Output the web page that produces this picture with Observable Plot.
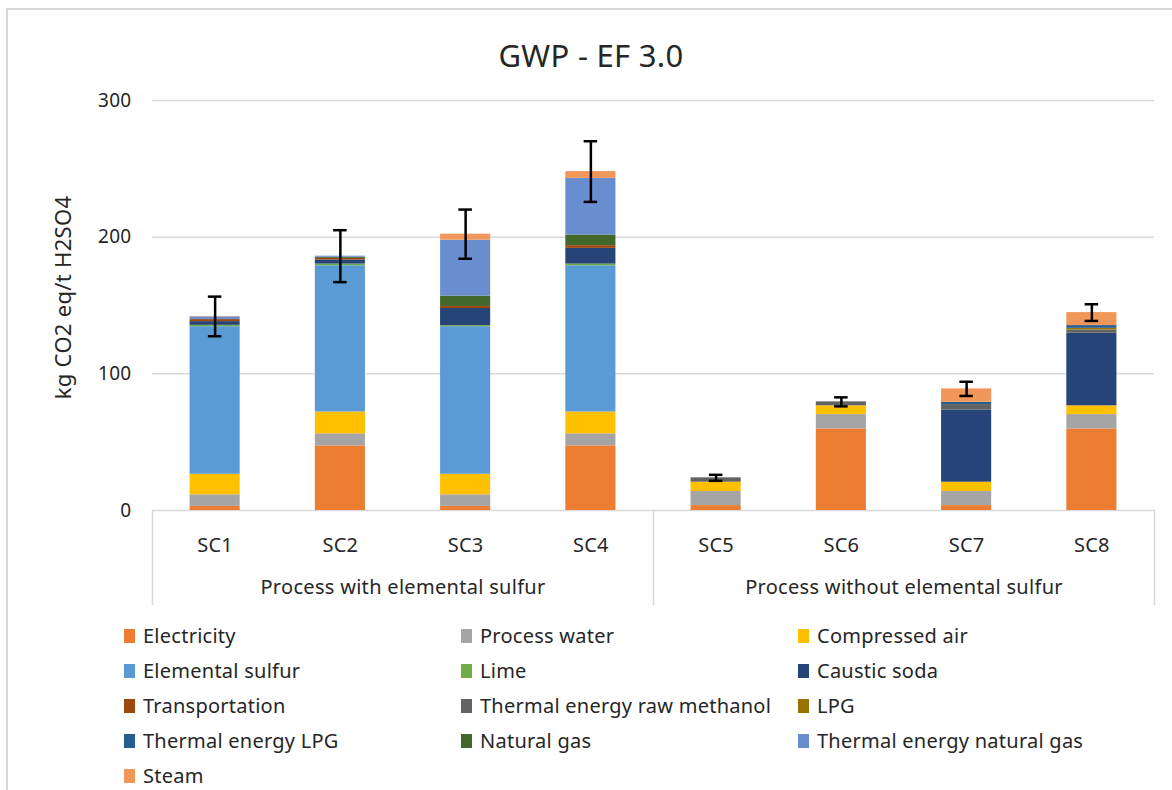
<!DOCTYPE html>
<html>
<head>
<meta charset="utf-8">
<script src="https://cdn.jsdelivr.net/npm/d3@7"></script>
<script src="https://cdn.jsdelivr.net/npm/@observablehq/plot@0.6"></script>
<style>
  html, body { margin: 0; padding: 0; background: #fff; }
  body { width: 1172px; height: 790px; overflow: hidden; position: relative; font-family: "Noto Sans", sans-serif; color: #262626; }
  #frame { position: absolute; left: 6px; top: 8px; width: 1200px; height: 900px; border: 2px solid #d9d9d9; box-sizing: border-box; pointer-events: none; }
  #title { height: 80px; box-sizing: border-box; padding-top: 38px; padding-left: 10px; text-align: center; font-size: 31px; line-height: 34px; color: #262626; letter-spacing: 0.3px; }
  #chart svg { display: block; letter-spacing: 0.3px; }
  #legend { display: grid; grid-template-columns: 337px 337px 337px; grid-auto-rows: 35px; padding-left: 124px; margin-top: -2px; font-size: 20px; letter-spacing: 0.25px; }
  .item { display: flex; align-items: center; white-space: nowrap; }
  .sw { width: 11px; height: 14px; margin-right: 8px; flex: none; }
</style>
</head>
<body>
<div id="frame"></div>
<div id="title"></div>
<div id="chart"></div>
<div id="legend"></div>
<script>
// ---- data ----
const chartTitle = "GWP - EF 3.0";
const yLabel = "kg CO2 eq/t H2SO4";
const yTicks = [0, 100, 200, 300];
const scenarios = ["SC1", "SC2", "SC3", "SC4", "SC5", "SC6", "SC7", "SC8"];
const groups = ["Process with elemental sulfur", "Process without elemental sulfur"];
const scenarioGroup = [0, 0, 0, 0, 1, 1, 1, 1];
const sources = ["Electricity", "Process water", "Compressed air", "Elemental sulfur", "Lime", "Caustic soda",
  "Transportation", "Thermal energy raw methanol", "LPG", "Thermal energy LPG", "Natural gas",
  "Thermal energy natural gas", "Steam"];
const sourceColors = ["#ED7D31", "#A5A5A5", "#FFC000", "#5B9BD5", "#70AD47", "#264478",
  "#9E480E", "#636363", "#997300", "#255E91", "#43682B", "#698ED0", "#F1975A"];

const electricity        = [3.0, 47.3, 3.0, 47.3, 3.6, 59.7, 3.6, 59.7];
const processWater       = [8.5, 8.8, 8.5, 8.8, 10.3, 10.5, 10.3, 10.5];
const compressedAir      = [15.0, 16.0, 15.0, 16.0, 6.8, 6.4, 6.8, 6.4];
const elementalSulfur    = [108.0, 107.0, 108.0, 107.0, 0, 0, 0, 0];
const lime               = [1.0, 1.2, 0.8, 1.2, 0, 0, 0, 0];
const causticSoda        = [2.7, 3.0, 12.5, 11.5, 0, 0, 52.9, 53.1];
const transportation     = [1.5, 1.2, 1.5, 2.0, 0, 0, 0, 0];
const thermalRawMethanol = [0, 0, 0, 0, 3.2, 2.9, 3.9, 2.4];
const lpg                = [0, 0, 0, 0, 0, 0, 0, 1.2];
const thermalLPG         = [0, 0, 0, 0, 0, 0, 1.7, 2.0];
const naturalGas         = [0, 0.8, 7.5, 7.8, 0, 0, 0, 0];
const thermalNaturalGas  = [2.0, 0.8, 41.0, 41.4, 0, 0, 0, 0];
const steam              = [0.3, 0, 4.4, 5.0, 0, 0, 9.8, 9.5];
const errorHalf          = [14.5, 19.0, 18.0, 22.2, 2.2, 3.3, 5.2, 6.1];

const seriesValues = [electricity, processWater, compressedAir, elementalSulfur, lime, causticSoda,
  transportation, thermalRawMethanol, lpg, thermalLPG, naturalGas, thermalNaturalGas, steam];

// ---- tables built from the arrays ----
const rows = sources.flatMap((source, s) =>
  scenarios.map((scenario, j) => ({ scenario, i: j + 1, source, value: seriesValues[s][j] })));
const totals = scenarios.map((scenario, j) => {
  const total = d3.sum(seriesValues, v => v[j]);
  return { scenario, i: j + 1, lo: total - errorHalf[j], hi: total + errorHalf[j] };
});
const caps = totals.flatMap(d => [{ i: d.i, y: d.lo }, { i: d.i, y: d.hi }]);
const indices = scenarios.map((s, j) => j + 1);
const groupCenters = groups.map((g, k) => d3.mean(indices.filter(i => scenarioGroup[i - 1] === k)));
const groupBounds = [0.5].concat(groups.map((g, k) => d3.max(indices.filter(i => scenarioGroup[i - 1] === k)) + 0.5));

const barHalf = 0.2;
const capHalf = 0.054;
const grid = "#d9d9d9";

document.getElementById("title").textContent = chartTitle;

const plot = Plot.plot({
  width: 1172,
  height: 540,
  marginTop: 20,
  marginBottom: 110,
  marginLeft: 152,
  marginRight: 18,
  x: { domain: [0.5, scenarios.length + 0.5] },
  y: { domain: [yTicks[0], yTicks[yTicks.length - 1]] },
  color: { domain: sources, range: sourceColors },
  style: { fontFamily: "'Noto Sans', sans-serif", fontSize: "20px", color: "#262626", background: "white", overflow: "visible" },
  marks: [
    Plot.ruleY(yTicks, { stroke: grid, strokeWidth: 1.5 }),
    Plot.ruleX(groupBounds, { stroke: grid, strokeWidth: 1.5, insetTop: 410, insetBottom: -95 }),
    Plot.rectY(rows, Plot.stackY({
      x: "i",
      x1: d => d.i - barHalf,
      x2: d => d.i + barHalf,
      y: "value",
      fill: "source"
    })),
    Plot.ruleX(totals, { x: "i", y1: "lo", y2: "hi", stroke: "black", strokeWidth: 2.5 }),
    Plot.ruleY(caps, { x1: d => d.i - capHalf, x2: d => d.i + capHalf, y: "y", stroke: "black", strokeWidth: 2.5 }),
    Plot.axisY({ ticks: yTicks, tickSize: 0, tickPadding: 21, fontSize: 19, label: null }),
    Plot.axisX({ ticks: indices, tickFormat: i => scenarios[i - 1], tickSize: 0, tickPadding: 27, fontSize: 20, label: null }),
    Plot.text(groups, { x: (d, k) => groupCenters[k], text: d => d, frameAnchor: "bottom", dy: 83, fontSize: 20 }),
    Plot.text([yLabel], { text: d => d, frameAnchor: "left", textAnchor: "middle", rotate: -90, dx: -89, dy: -8, fontSize: 22 })
  ]
});
document.getElementById("chart").appendChild(plot);

const legend = document.getElementById("legend");
sources.forEach((s, k) => {
  const item = document.createElement("div");
  item.className = "item";
  const sw = document.createElement("span");
  sw.className = "sw";
  sw.style.background = sourceColors[k];
  const label = document.createElement("span");
  label.textContent = s;
  item.appendChild(sw);
  item.appendChild(label);
  legend.appendChild(item);
});
</script>
</body>
</html>
